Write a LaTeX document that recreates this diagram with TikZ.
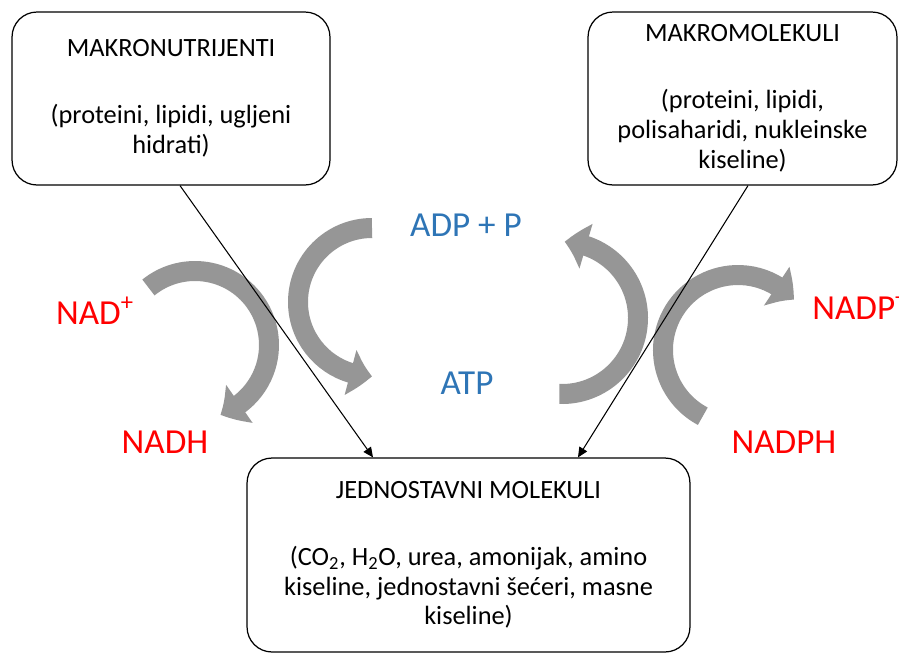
\documentclass[tikz,border=0pt]{standalone}
\usepackage{fontspec}
\setmainfont{Carlito}
\usetikzlibrary{positioning,arrows.meta,bending,calc}
\definecolor{atpblue}{RGB}{46,117,182}
\definecolor{nadred}{RGB}{255,0,0}
\definecolor{arrgray}{RGB}{150,150,150}
\tikzset{
  box/.style   ={rectangle, rounded corners=0.5cm, draw=black, line width=0.7pt, fill=white,
                 align=center, font=\fontsize{15}{17}\selectfont, inner sep=0pt},
  blab/.style  ={text=atpblue, font=\fontsize{20}{24}\selectfont, anchor=base},
  rlab/.style  ={text=nadred, font=\fontsize{20}{24}\selectfont, anchor=base},
  bigarr/.style={line width=4mm, draw=arrgray, -{Triangle[length=4.4mm,width=9mm,bend]}},
  conn/.style  ={-{Triangle[length=2mm,width=1.8mm]}, line width=0.6pt},
}
\begin{document}
\begin{tikzpicture}[x=0.02cm,y=0.02cm]
\useasboundingbox (0,0) rectangle (899,-653);
% boxes
\node[box, minimum width=6.36cm, minimum height=3.46cm] (makro) at (171,-98.5)
  {MAKRONUTRIJENTI\\[21pt] (proteini, lipidi, ugljeni\\ hidrati)};
\node[box, minimum width=6.18cm, minimum height=3.46cm] (makromol) at (742.5,-98.5)
  {MAKROMOLEKULI\\[21pt] (proteini, lipidi,\\ polisaharidi, nukleinske\\ kiseline)};
\node[box, minimum width=8.86cm, minimum height=3.88cm] (jedn) at (468.5,-555)
  {JEDNOSTAVNI MOLEKULI\\[21pt] (CO\textsubscript{2}, H\textsubscript{2}O, urea, amonijak, amino\\
   kiseline, jednostavni šećeri, masne\\ kiseline)};

% curved arrows
\coordinate (c1) at (195,-345);
\coordinate (c2) at (372,-302);
\coordinate (c3) at (562,-318);
\coordinate (c4) at (738,-350);
\draw[bigarr] ($(c1)+(129:74)$) arc[start angle=129, end angle=-70, radius=74];
\draw[bigarr] ($(c2)+(90:74)$) arc[start angle=90, end angle=270, radius=74];
\draw[bigarr] ($(c3)+(-92:76)$) arc[start angle=-92, end angle=88, radius=76];
\draw[bigarr] ($(c4)+(242:75)$) arc[start angle=242, end angle=42, radius=75];

% connectors
\draw[conn] ([xshift=0.18cm]makro.south) -- ([xshift=-1.91cm]jedn.north);
\draw[conn] ([xshift=0.11cm]makromol.south) -- ([xshift=2.19cm]jedn.north);

% labels
\node[blab] (adp) at (466,-236) {ADP + P};
\node[blab] (atp) at (467,-394) {ATP};
\node[rlab] (nad) at (95,-324) {NAD\textsuperscript{+}};
\node[rlab] (nadh) at (165,-453) {NADH};
\node[rlab, anchor=base west, inner sep=0pt] (nadp) at (812,-319) {NADP\textsuperscript{+}};
\node[rlab] (nadph) at (784,-453) {NADPH};
\end{tikzpicture}
\end{document}
